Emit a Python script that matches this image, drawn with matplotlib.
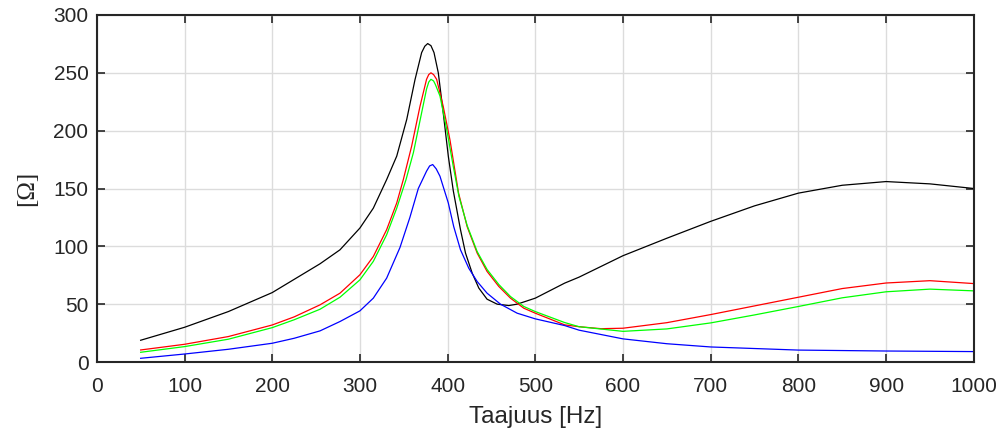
import numpy as np
import matplotlib
matplotlib.use('Agg')
import matplotlib.pyplot as plt

# Luetut arvot (taajuus [Hz], impedanssi [Ohm])
f_black = [50, 100, 150, 200, 254.5, 277.3, 300, 315.3, 330.5, 342, 353.4, 362.8, 370.4,
           374, 377.3, 381, 384.5, 389.4, 395, 400.8, 406.5, 414.7, 420.4, 428, 435.6, 445,
           456.5, 469.8, 479.3, 500, 533.5, 550, 600, 650, 700, 750, 800, 850, 900, 950, 1000]
z_black = [18.8, 30, 43.6, 60, 84.9, 97, 115.8, 133, 157.7, 178, 209.7, 244, 267.5,
           273, 275.3, 273.5, 267.5, 250, 215.5, 178, 148, 114.4, 94.2, 76.9, 63.9, 54.3,
           50, 48.8, 50, 55.2, 68.2, 73.4, 91.9, 107, 121.6, 135, 146, 152.8, 156, 154, 150]

f_red = [50, 100, 150, 200, 225, 254.5, 277.3, 300, 315.3, 330.5, 342, 349.5, 359, 368.5,
         376, 378.5, 381, 384, 387.5, 395, 402.7, 412.5, 422.3, 433.7, 445, 458.4, 471.7,
         486.9, 500, 533.5, 550, 575, 600, 650, 700, 750, 800, 850, 900, 950, 1000]
z_red = [10.4, 15.3, 22, 32, 39, 49.4, 59.5, 75.4, 91.2, 114.4, 137.5, 157.7, 186.6, 221,
         244.4, 248.5, 250, 248.5, 244.4, 221, 192, 146, 117, 94.2, 78.3, 65.3, 55.2,
         46.5, 42.2, 32.1, 30.5, 28.8, 29.2, 34, 41, 48.5, 56, 63.5, 68.3, 70.3, 67.8]

f_green = [50, 100, 150, 200, 225, 254.5, 277.3, 300, 315.3, 330.5, 342, 352.6, 361, 370.4,
           376, 378.5, 381, 384, 386, 391.3, 399, 406.5, 413, 422.3, 433.7, 445, 458.4,
           471.7, 486.9, 500, 533.5, 550, 600, 650, 700, 750, 800, 850, 900, 950, 1000]
z_green = [8.4, 13.3, 19.7, 29.7, 36.5, 45.6, 56, 71, 87, 110, 133, 157.7, 181, 215.5,
           236, 242, 244.4, 243, 240, 230, 201, 169, 143, 118, 95.5, 80, 67,
           56.6, 48, 43.6, 34.1, 30.5, 26.5, 28.6, 33.8, 40.7, 48, 55.5, 60.7, 63, 61.5]

f_blue = [50, 100, 150, 200, 225, 254.5, 277.3, 300, 315.3, 330.5, 345.7, 357, 366.6, 376,
          379.5, 383, 387, 391.3, 400.8, 407, 414.7, 424.2, 433.7, 445, 460.3, 479.3, 500,
          533.5, 550, 600, 650, 700, 800, 900, 1000]
z_blue = [3.2, 6.9, 11, 16.2, 20.5, 26.9, 35, 44.2, 55.2, 72.5, 99, 125, 150, 165,
          169.5, 170.7, 167, 160.6, 137.5, 117, 97, 81, 69.6, 59.5, 50, 42.2, 37.3,
          31.5, 27.5, 20, 15.8, 13, 10.3, 9.5, 9.0]

x_ticks = [0, 100, 200, 300, 400, 500, 600, 700, 800, 900, 1000]
y_ticks = [0, 50, 100, 150, 200, 250, 300]

plt.rcParams['font.family'] = ['Liberation Sans', 'DejaVu Sans']

fig = plt.figure(figsize=(10.01, 4.32), dpi=100)
ax = fig.add_axes([96.8 / 1001, 1 - 362 / 432, 877 / 1001, 347 / 432])

for f, z, c in [(f_black, z_black, 'k'), (f_red, z_red, '#ff0000'),
                (f_green, z_green, '#00ff00'), (f_blue, z_blue, '#0000ff')]:
    ax.plot(f, z, color=c, linewidth=0.9, solid_joinstyle='round')

ax.set_xlim(0, 1000)
ax.set_ylim(0, 300)
ax.set_xticks(x_ticks)
ax.set_yticks(y_ticks)
ax.grid(True, color='#dcdcdc', linewidth=1.0)
ax.set_axisbelow(True)

for s in ax.spines.values():
    s.set_linewidth(1.5)
    s.set_color('#262626')

ax.tick_params(direction='in', length=6, width=1.2, top=True, right=True,
               labelsize=15, colors='#262626')
ax.tick_params(axis='y', pad=6)
ax.tick_params(axis='x', pad=11)

ax.set_xlabel('Taajuus [Hz]', fontsize=17.5, color='#262626', labelpad=7)
ax.set_ylabel('[Ω]', fontsize=18, color='#262626', family=['Liberation Serif', 'DejaVu Serif'],
              labelpad=11)

plt.savefig('out.png', dpi=100)
